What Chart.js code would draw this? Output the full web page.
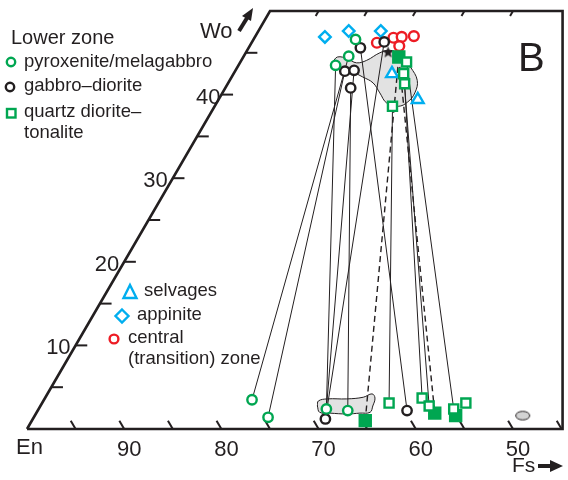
<!DOCTYPE html>
<html>
<head>
<meta charset="utf-8">
<script src="https://cdn.jsdelivr.net/npm/chart.js@4.4.1/dist/chart.umd.min.js"></script>
<style>
  body { margin: 0; background: #fff; }
  canvas { display: block; }
</style>
</head>
<body>
<canvas id="myChart" width="568" height="480"></canvas>
<script>
// every point is [Wo, Fs] in mol %, En = 100 - Wo - Fs
const pyroxenite = [[46.6, 10.5], [44.6, 10.8], [43.5, 10.0], [3.5, 21.4], [1.4, 24.1], [2.4, 29.6], [2.2, 31.9]];
const gabbro = [[45.6, 11.5], [46.3, 13.6], [42.8, 11.3], [42.9, 12.2], [40.8, 12.9], [1.2, 30.1], [2.2, 38.0]];
const quartzDiorite = [[43.9, 17.1], [42.5, 17.5], [41.3, 18.2], [38.6, 18.3], [3.1, 35.7], [3.7, 38.8], [2.75, 40.0], [2.4, 42.7], [3.1, 43.6]];
const quartzDioriteFilled = [[44.5, 16.0], [1.0, 34.3], [1.9, 41.0], [1.6, 43.3]];
const selvages = [[42.5, 16.3], [39.4, 20.5]];
const appinite = [[46.9, 7.2], [47.6, 9.3], [47.6, 12.6]];
const centralZone = [[46.2, 12.9], [46.8, 14.3], [46.9, 15.1], [47.0, 16.3], [45.8, 15.4]];
const starPoint = [[45.1, 14.6]];
const ellipsePoint = [[1.6, 50.2]];

// tie lines: [top point, bottom point]
const tieLines = [
  [[44.6, 10.8], [3.5, 21.4]],
  [[42.8, 11.3], [1.4, 24.1]],
  [[43.5, 10.0], [2.4, 29.6]],
  [[42.9, 12.2], [2.4, 29.6]],
  [[46.3, 13.6], [1.2, 30.1]],
  [[40.8, 12.9], [2.2, 31.9]],
  [[45.6, 11.5], [2.2, 38.0]],
  [[38.6, 18.3], [3.1, 35.7]],
  [[41.3, 18.2], [3.7, 38.8]],
  [[42.5, 17.5], [2.75, 40.0]],
  [[43.9, 17.1], [2.4, 42.7]]
];
const dashedTieLines = [
  [[44.5, 16.0], [1.0, 34.3]],
  [[44.5, 16.0], [1.9, 41.0]]
];

// grey fields
const upperField = [[43.9, 9.5], [44.5, 9.7], [44.3, 10.8], [43.8, 12.0], [44.1, 12.9], [45.0, 13.8], [45.3, 14.7], [44.7, 16.2], [43.3, 17.8], [41.7, 19.3], [40.2, 19.8], [39.1, 19.6], [38.6, 18.9], [39.0, 17.5], [40.2, 16.2], [41.4, 14.9], [42.1, 13.5], [42.7, 12.1], [42.9, 11.0], [43.3, 10.0]];
const lowerField = [[2.75, 28.5], [3.35, 28.3], [3.6, 29.1], [3.6, 31.1], [3.8, 32.7], [4.2, 33.4], [3.7, 33.95], [2.75, 34.2], [2.0, 34.3], [1.9, 33.3], [1.8, 32.0], [1.9, 30.2], [2.0, 29.1]];

// outline of the cut quadrilateral
const frame = [[0, 0], [50, 0], [50, 30.1], [0, 55.1]];
const enTicks = [95, 90, 85, 80, 75, 70, 65, 60, 55, 50, 45];
const enLabels = [90, 80, 70, 60, 50];
const woTicks = [5, 10, 15, 20, 25, 30, 35, 40, 45];
const woLabels = [10, 20, 30, 40];
const fsTopTicks = [5, 10, 15, 20, 25];

const ink = '#231f20';
const green = '#00a651';
const red = '#ed1c24';
const blue = '#00aeef';

function toXY(p) {
  return { x: p[1] + p[0] / 2, y: p[0] };
}

function markerSet(pts, style, radius, color, filled) {
  return {
    data: pts.map(toXY),
    pointStyle: style,
    pointRadius: radius,
    borderColor: color,
    backgroundColor: filled ? color : '#fff',
    pointBorderWidth: 2.4,
    showLine: false,
    order: 0,
    clip: false
  };
}

function lineSet(pts, width, dash, order) {
  return {
    data: pts.map(toXY),
    showLine: true,
    pointRadius: 0,
    borderColor: ink,
    borderWidth: width,
    borderDash: dash || [],
    fill: false,
    order: order,
    clip: false
  };
}

// custom point images
const starImg = document.createElement('canvas');
starImg.width = 13; starImg.height = 13;
(function () {
  const c = starImg.getContext('2d');
  c.fillStyle = ink;
  c.beginPath();
  for (let i = 0; i < 10; i++) {
    const r = i % 2 === 0 ? 6.3 : 2.6;
    const a = -Math.PI / 2 + i * Math.PI / 5;
    c.lineTo(6.5 + r * Math.cos(a), 7 + r * Math.sin(a));
  }
  c.closePath();
  c.fill();
})();
const ellipseImg = document.createElement('canvas');
ellipseImg.width = 17; ellipseImg.height = 12;
(function () {
  const c = ellipseImg.getContext('2d');
  c.fillStyle = '#d3d3d3';
  c.strokeStyle = ink;
  c.lineWidth = 1;
  c.beginPath();
  c.ellipse(8.5, 6, 7, 4.3, 0, 0, Math.PI * 2);
  c.fill();
  c.stroke();
})();

const datasets = [];

// grey fields
[upperField, lowerField].forEach(f => {
  datasets.push({
    data: f.concat([f[0]]).map(toXY),
    showLine: true,
    pointRadius: 0,
    borderColor: ink,
    borderWidth: 1,
    backgroundColor: '#e2e2e2',
    fill: 'shape',
    tension: 0.4,
    order: 10,
    clip: false
  });
});

tieLines.forEach(t => datasets.push(lineSet(t, 1, null, 6)));
dashedTieLines.forEach(t => datasets.push(lineSet(t, 1.4, [6, 4], 6)));

// frame and ticks
datasets.push(lineSet(frame.concat([frame[0]]), 2.6, null, 4));
enTicks.forEach(en => {
  const fs = 100 - en;
  datasets.push(lineSet([[0, fs], [1.0, fs - 1.0]], 2, null, 4));
});
woTicks.forEach(wo => {
  datasets.push(lineSet([[wo, 0], [wo, 1.2]], 2, null, 4));
});
fsTopTicks.forEach(fs => {
  datasets.push(lineSet([[50, fs], [49.4, fs]], 2, null, 4));
});

// markers
datasets.push(markerSet(pyroxenite, 'circle', 4.7, green, false));
datasets.push(markerSet(gabbro, 'circle', 4.7, ink, false));
datasets.push(markerSet(quartzDiorite, 'rect', 6.4, green, false));
datasets.push(markerSet(quartzDioriteFilled, 'rect', 7.8, green, true));
datasets.push(markerSet(selvages, 'triangle', 6.8, blue, false));
datasets.push(markerSet(appinite, 'rectRot', 5.8, blue, false));
datasets.push(markerSet(centralZone, 'circle', 4.9, red, false));
datasets.push(Object.assign(markerSet(starPoint, starImg, 6, ink, true), { pointBorderWidth: 0 }));
datasets.push(Object.assign(markerSet(ellipsePoint, ellipseImg, 6, ink, true), { pointBorderWidth: 0 }));

// legend + axis text drawn straight on the canvas
const textPlugin = {
  id: 'ternaryText',
  afterDraw(chart) {
    const ctx = chart.ctx;
    const sx = chart.scales.x, sy = chart.scales.y;
    const px = p => [sx.getPixelForValue(p[1] + p[0] / 2), sy.getPixelForValue(p[0])];
    ctx.save();
    ctx.fillStyle = ink;
    ctx.textBaseline = 'alphabetic';

    ctx.font = '22px "Liberation Sans", Arial, sans-serif';
    ctx.textAlign = 'center';
    enLabels.forEach(en => {
      const p = px([0, 100 - en]);
      ctx.fillText(String(en), p[0] + 5, 456);
    });
    ctx.textAlign = 'right';
    woLabels.forEach(wo => {
      const p = px([wo, 0]);
      ctx.fillText(String(wo), p[0] - (wo === 40 ? 1 : 5), p[1] + 9);
    });
    ctx.textAlign = 'left';
    ctx.fillText('En', 16, 454);
    ctx.fillText('Wo', 200, 38);
    ctx.font = '21px "Liberation Sans", Arial, sans-serif';
    ctx.fillText('Fs', 512, 472);
    ctx.font = '40px "Liberation Sans", Arial, sans-serif';
    ctx.fillText('B', 518, 71);

    // arrows
    ctx.strokeStyle = ink;
    ctx.lineWidth = 4;
    ctx.beginPath(); ctx.moveTo(239, 31); ctx.lineTo(247, 18); ctx.stroke();
    ctx.beginPath(); ctx.moveTo(253, 8); ctx.lineTo(242, 16); ctx.lineTo(251, 21); ctx.closePath(); ctx.fill();
    ctx.beginPath(); ctx.moveTo(538, 466); ctx.lineTo(552, 466); ctx.stroke();
    ctx.beginPath(); ctx.moveTo(563, 466); ctx.lineTo(550, 460); ctx.lineTo(550, 472); ctx.closePath(); ctx.fill();

    // legend
    ctx.font = '20px "Liberation Sans", Arial, sans-serif';
    ctx.fillText('Lower zone', 11, 44);
    ctx.font = '18.5px "Liberation Sans", Arial, sans-serif';
    ctx.fillText('pyroxenite/melagabbro', 24, 67);
    ctx.fillText('gabbro\u2013diorite', 24, 91);
    ctx.fillText('quartz diorite\u2013', 24, 117);
    ctx.fillText('tonalite', 24, 138);
    ctx.fillText('selvages', 144, 296);
    ctx.fillText('appinite', 137, 320);
    ctx.fillText('central', 128, 343);
    ctx.fillText('(transition) zone', 128, 364);

    ctx.lineWidth = 2.4;
    ctx.strokeStyle = green;
    ctx.beginPath(); ctx.arc(11, 62, 4.2, 0, Math.PI * 2); ctx.stroke();
    ctx.strokeStyle = ink;
    ctx.beginPath(); ctx.arc(10, 87, 4.2, 0, Math.PI * 2); ctx.stroke();
    ctx.strokeStyle = green;
    ctx.strokeRect(7, 109, 8.5, 8.5);
    ctx.strokeStyle = blue;
    ctx.beginPath(); ctx.moveTo(130, 285); ctx.lineTo(136.5, 298); ctx.lineTo(123.5, 298); ctx.closePath(); ctx.stroke();
    ctx.beginPath(); ctx.moveTo(122, 309.5); ctx.lineTo(128.5, 316); ctx.lineTo(122, 322.5); ctx.lineTo(115.5, 316); ctx.closePath(); ctx.stroke();
    ctx.strokeStyle = red;
    ctx.beginPath(); ctx.arc(114, 339, 4.4, 0, Math.PI * 2); ctx.stroke();
    ctx.restore();
  }
};

const xMin = -27 / 9.72;
const yMax = 429 / 8.36;

new Chart(document.getElementById('myChart').getContext('2d'), {
  type: 'scatter',
  data: { datasets: datasets },
  options: {
    responsive: false,
    animation: false,
    layout: { padding: 0, autoPadding: false },
    scales: {
      x: { type: 'linear', display: false, min: xMin, max: xMin + 568 / 9.72 },
      y: { type: 'linear', display: false, min: yMax - 480 / 8.36, max: yMax }
    },
    plugins: {
      legend: { display: false },
      tooltip: { enabled: false }
    }
  },
  plugins: [textPlugin]
});
</script>
</body>
</html>
